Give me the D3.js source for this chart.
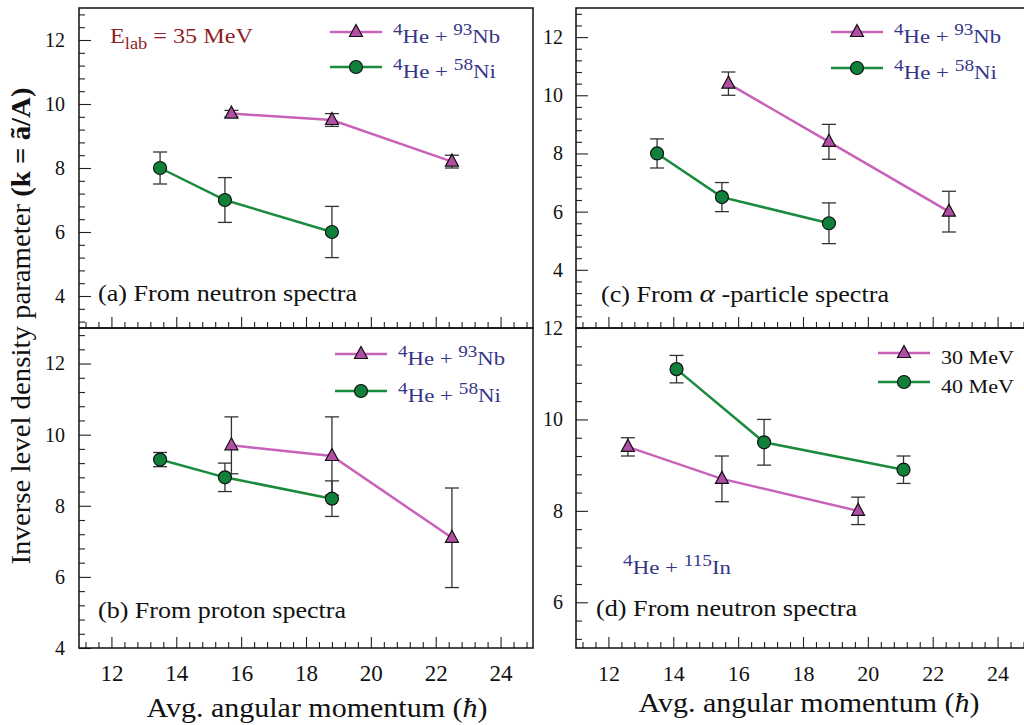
<!DOCTYPE html>
<html>
<head>
<meta charset="utf-8">
<script src="https://cdn.jsdelivr.net/npm/d3@7"></script>
<style>
  body { margin: 0; background: #fff; }
  svg text { font-family: "Liberation Serif", "Times New Roman", serif; }
</style>
</head>
<body>
<div id="chart"></div>
<script>
// x ticks shared by all panels
var xMajor = [12, 14, 16, 18, 20, 22, 24];

// (a) neutron spectra, 35 MeV
var neutronNbJ = [15.7, 18.8, 22.5];
var neutronNbK = [9.7, 9.5, 8.2];
var neutronNbErr = [0.1, 0.2, 0.2];
var neutronNiJ = [13.5, 15.5, 18.8];
var neutronNiK = [8.0, 7.0, 6.0];
var neutronNiErr = [0.5, 0.7, 0.8];

// (b) proton spectra
var protonNbJ = [15.7, 18.8, 22.5];
var protonNbK = [9.7, 9.4, 7.1];
var protonNbErr = [0.8, 1.1, 1.4];
var protonNiJ = [13.5, 15.5, 18.8];
var protonNiK = [9.3, 8.8, 8.2];
var protonNiErr = [0.2, 0.4, 0.5];

// (c) alpha spectra
var alphaNbJ = [15.7, 18.8, 22.5];
var alphaNbK = [10.4, 8.4, 6.0];
var alphaNbErr = [0.4, 0.6, 0.7];
var alphaNiJ = [13.5, 15.5, 18.8];
var alphaNiK = [8.0, 6.5, 5.6];
var alphaNiErr = [0.5, 0.5, 0.7];

// (d) 4He + 115In neutron spectra
var in30J = [12.6, 15.5, 19.7];
var in30K = [9.4, 8.7, 8.0];
var in30Err = [0.2, 0.5, 0.3];
var in40J = [14.1, 16.8, 21.1];
var in40K = [11.1, 9.5, 8.9];
var in40Err = [0.3, 0.5, 0.3];

var pink = "#c862b9", pinkFill = "#b24ea6";
var green = "#1a8a3c", greenFill = "#11803a";
var blueText = "#363689", redText = "#8e1f26";

var svg = d3.select("#chart").append("svg").attr("width", 1024).attr("height", 725);
svg.append("rect").attr("width", 1024).attr("height", 725).attr("fill", "#fff");

function zip(j, k, e){
  var out = [];
  for(var i = 0; i < j.length; i++){
    out.push({j: j[i], k: k[i], e: e[i]});
  }
  return out;
}

// the original font is wider than Liberation Serif, so stretch to the measured width
function stretch(t, w){
  t.attr("textLength", w).attr("lengthAdjust", "spacingAndGlyphs");
}

function drawMarker(g, cx, cy, kind){
  if(kind == "tri"){
    g.append("path").attr("d", "M0,-7.5L6.5,4.5L-6.5,4.5Z")
      .attr("transform", "translate(" + cx + "," + cy + ")")
      .attr("fill", pinkFill).attr("stroke", "#111").attr("stroke-width", 1.2);
  } else {
    g.append("circle").attr("cx", cx).attr("cy", cy).attr("r", 6.5)
      .attr("fill", greenFill).attr("stroke", "#111").attr("stroke-width", 1.2);
  }
}

function makePanel(p){
  var g = svg.append("g");
  var x = d3.scaleLinear().domain([11, 25]).range([p.left, p.left + 454]);
  var y = d3.scaleLinear().domain(p.yDomain).range([p.top + 320, p.top]);

  // y ticks, pointing into the plot; minor ones every 0.4
  var yMinor = [];
  var yb = Math.floor(p.yDomain[0] / 2) * 2;
  for(var v = yb; v <= p.yDomain[1] + 1e-9; v += 0.4){
    var r = Math.round(v * 10) / 10;
    if(r > p.yDomain[0] && r < p.yDomain[1] && Math.abs(r % 2) > 0.01) yMinor.push(r);
  }
  g.append("g").attr("transform", "translate(" + p.left + ",0)")
    .call(d3.axisLeft(y).tickValues(yMinor).tickSize(-6).tickFormat(""))
    .call(function(a){ a.select(".domain").remove(); });
  g.append("g").attr("transform", "translate(" + p.left + ",0)")
    .call(d3.axisLeft(y).tickValues(p.yMajor).tickSize(-12).tickPadding(p.yPad).tickFormat(d3.format("d")))
    .call(function(a){
      a.select(".domain").remove();
      a.selectAll("text").attr("font-size", 20).attr("fill", "#111");
    });

  // x ticks on the bottom edge
  var xMinor = [];
  for(var u = 11.2; u <= 24.9; u += 0.4){
    var q = Math.round(u * 10) / 10;
    if(Math.abs(q % 2) > 0.01) xMinor.push(q);
  }
  g.append("g").attr("transform", "translate(0," + (p.top + 320) + ")")
    .call(d3.axisBottom(x).tickValues(xMinor).tickSize(-6).tickFormat(""))
    .call(function(a){ a.select(".domain").remove(); });
  g.append("g").attr("transform", "translate(0," + (p.top + 320) + ")")
    .call(d3.axisBottom(x).tickValues(xMajor).tickSize(-11).tickPadding(17)
      .tickFormat(p.xLabels ? d3.format("d") : ""))
    .call(function(a){
      a.select(".domain").remove();
      a.selectAll("text").attr("font-size", p.xFont).attr("fill", "#111");
    });
  g.selectAll(".tick line").attr("stroke", "#222").attr("stroke-width", 1.1);

  // frame
  g.append("rect").attr("x", p.left).attr("y", p.top).attr("width", 454).attr("height", 320)
    .attr("fill", "none").attr("stroke", "#111").attr("stroke-width", 1.5);

  p.series.forEach(function(s){
    var data = zip(s.j, s.k, s.e);
    var eb = g.append("g").attr("stroke", "#333").attr("stroke-width", 1.3);
    data.forEach(function(d){
      eb.append("line").attr("x1", x(d.j)).attr("x2", x(d.j)).attr("y1", y(d.k - d.e)).attr("y2", y(d.k + d.e));
      eb.append("line").attr("x1", x(d.j) - 7).attr("x2", x(d.j) + 7).attr("y1", y(d.k - d.e)).attr("y2", y(d.k - d.e));
      eb.append("line").attr("x1", x(d.j) - 7).attr("x2", x(d.j) + 7).attr("y1", y(d.k + d.e)).attr("y2", y(d.k + d.e));
    });
    g.append("path").datum(data)
      .attr("d", d3.line().x(function(d){ return x(d.j); }).y(function(d){ return y(d.k); }))
      .attr("fill", "none").attr("stroke", s.color).attr("stroke-width", 2.5);
    data.forEach(function(d){ drawMarker(g, x(d.j), y(d.k), s.kind); });
  });

  // legend
  p.series.forEach(function(s, i){
    var ly = p.legend.y[i];
    g.append("line").attr("x1", p.legend.x).attr("x2", p.legend.x + 52)
      .attr("y1", ly).attr("y2", ly).attr("stroke", s.color).attr("stroke-width", 2.5);
    drawMarker(g, p.legend.x + 26, ly, s.kind);
    var t = g.append("text").attr("x", p.legend.x + 63).attr("y", ly + 11)
      .attr("font-size", 19).attr("fill", s.textColor);
    s.label(t);
    stretch(t, s.width);
  });

  var tt = g.append("text").attr("x", p.title.x).attr("y", p.title.y)
    .attr("font-size", 23).attr("fill", "#111").call(p.title.text);
  stretch(tt, p.title.width);

  return g;
}

function reaction(mass, el){
  return function(t){
    t.append("tspan").attr("font-size", 16).attr("dy", -8).text("4");
    t.append("tspan").attr("dy", 8).text("He + ");
    t.append("tspan").attr("font-size", 16).attr("dy", -8).text(mass);
    t.append("tspan").attr("dy", 8).text(el);
  };
}
function plain(str){ return function(t){ t.text(str); }; }

var nbStyle = {kind: "tri", color: pink, textColor: blueText, label: reaction("93", "Nb"), width: 107};
var niStyle = {kind: "circ", color: green, textColor: blueText, label: reaction("58", "Ni"), width: 103};
function withData(style, j, k, e){
  return Object.assign({}, style, {j: j, k: k, e: e});
}

makePanel({
  left: 79, top: 8, yDomain: [3, 13], yMajor: [4, 6, 8, 10, 12], yPad: 14, xLabels: false, xFont: 22,
  series: [withData(nbStyle, neutronNbJ, neutronNbK, neutronNbErr), withData(niStyle, neutronNiJ, neutronNiK, neutronNiErr)],
  legend: {x: 330, y: [32, 67]},
  title: {x: 98, y: 301, width: 259, text: plain("(a) From neutron spectra")}
});

makePanel({
  left: 79, top: 328, yDomain: [4, 13], yMajor: [4, 6, 8, 10, 12], yPad: 14, xLabels: true, xFont: 23,
  series: [withData(nbStyle, protonNbJ, protonNbK, protonNbErr), withData(niStyle, protonNiJ, protonNiK, protonNiErr)],
  legend: {x: 335, y: [354, 391]},
  title: {x: 98, y: 618, width: 248, text: plain("(b) From proton spectra")}
});

makePanel({
  left: 576, top: 8, yDomain: [2, 13], yMajor: [4, 6, 8, 10, 12], yPad: 13, xLabels: false, xFont: 22,
  series: [withData(nbStyle, alphaNbJ, alphaNbK, alphaNbErr), withData(niStyle, alphaNiJ, alphaNiK, alphaNiErr)],
  legend: {x: 831, y: [32, 68]},
  title: {x: 601, y: 302, width: 288, text: function(t){
    t.append("tspan").text("(c) From ");
    t.append("tspan").attr("font-style", "italic").attr("font-size", 26).text("\u03b1");
    t.append("tspan").text(" -particle spectra");
  }}
});

makePanel({
  left: 576, top: 328, yDomain: [5, 12], yMajor: [6, 8, 10, 12], yPad: 13, xLabels: true, xFont: 22,
  series: [
    Object.assign({}, nbStyle, {textColor: "#111", label: plain("30 MeV"), width: 73, j: in30J, k: in30K, e: in30Err}),
    Object.assign({}, niStyle, {textColor: "#111", label: plain("40 MeV"), width: 73, j: in40J, k: in40K, e: in40Err})
  ],
  legend: {x: 878, y: [353, 382]},
  title: {x: 596, y: 616, width: 261, text: plain("(d) From neutron spectra")}
});

// E_lab note
var et = svg.append("text").attr("x", 110).attr("y", 43).attr("font-size", 21).attr("fill", redText);
et.append("tspan").text("E");
et.append("tspan").attr("font-size", 16).attr("dy", 6).text("lab");
et.append("tspan").attr("dy", -6).text(" = 35 MeV");
stretch(et, 143);

// reaction label in (d)
var rt = svg.append("text").attr("x", 623).attr("y", 574).attr("font-size", 19).attr("fill", blueText);
reaction("115", "In")(rt);
stretch(rt, 108);

// axis titles
[{x: 317, y: 717}, {x: 809, y: 712}].forEach(function(a){
  var t = svg.append("text").attr("x", a.x).attr("y", a.y).attr("text-anchor", "middle")
    .attr("font-size", 28).attr("fill", "#111");
  t.append("tspan").text("Avg. angular momentum (");
  t.append("tspan").attr("font-style", "italic").text("\u0127");
  t.append("tspan").text(")");
  stretch(t, 341);
});

var yt = svg.append("text").attr("transform", "translate(30,326) rotate(-90)")
  .attr("text-anchor", "middle").attr("font-size", 27).attr("fill", "#111");
yt.append("tspan").text("Inverse level density parameter ");
yt.append("tspan").attr("font-weight", "bold").text("(k = \u00e3/A)");
stretch(yt, 477);
</script>
</body>
</html>
